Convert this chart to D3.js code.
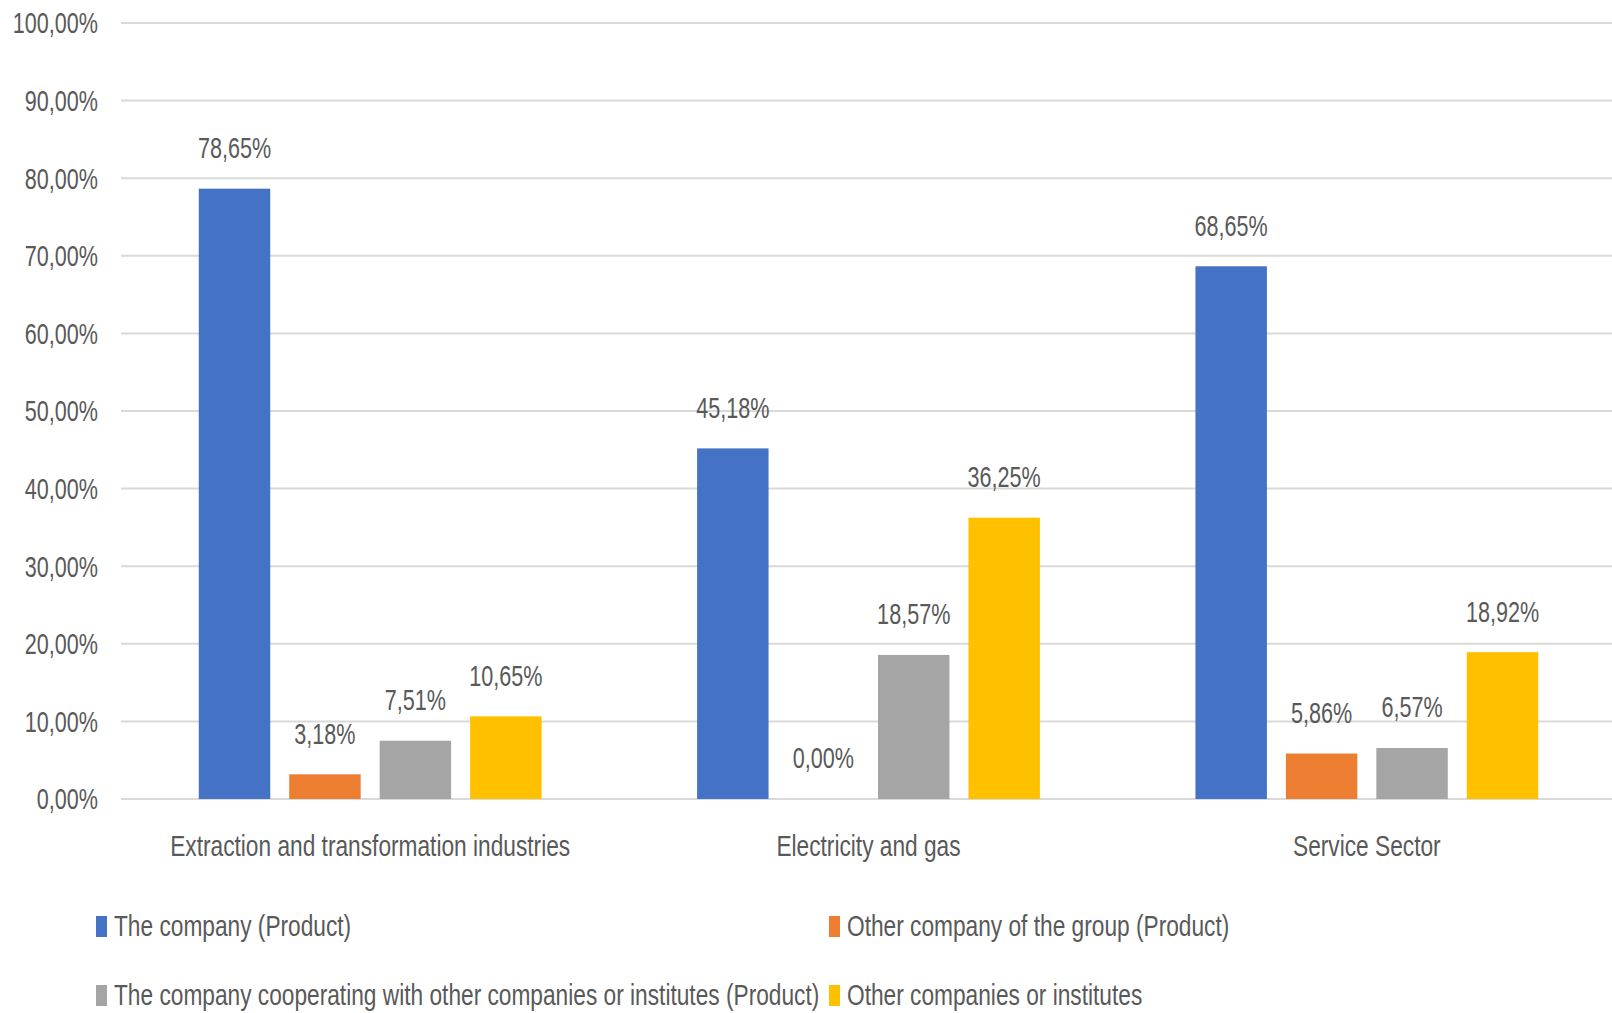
<!DOCTYPE html>
<html>
<head>
<meta charset="utf-8">
<script src="https://cdn.jsdelivr.net/npm/d3@7"></script>
<style>
  html, body { margin: 0; padding: 0; background: #ffffff; }
  svg { display: block; }
  text { font-family: "Liberation Sans", Arial, sans-serif; fill: #595959; }
</style>
</head>
<body>
<svg id="chart" width="1612" height="1013"></svg>
<script>
const categories = ["Extraction and transformation industries", "Electricity and gas", "Service Sector"];
const seriesNames = [
  "The company (Product)",
  "Other company of the group (Product)",
  "The company cooperating with other companies or institutes (Product)",
  "Other companies or institutes"
];
const seriesColors = ["#4472C4", "#ED7D31", "#A5A5A5", "#FFC000"];
const valuesCompany     = [78.65, 45.18, 68.65];
const valuesGroup       = [3.18, 0.00, 5.86];
const valuesCooperating = [7.51, 18.57, 6.57];
const valuesOthers      = [10.65, 36.25, 18.92];
const seriesValues = [valuesCompany, valuesGroup, valuesCooperating, valuesOthers];
const yTicks = [0, 10, 20, 30, 40, 50, 60, 70, 80, 90, 100];

const SXN = 0.72;      // horizontal compression for numbers
const SXW = 0.757;     // horizontal compression for words
const FS = 30;         // font size

const svg = d3.select("#chart");
const fmt = v => v.toFixed(2).replace(".", ",") + "%";

const x0 = d3.scaleBand().domain(categories).range([121, 1616]).paddingInner(0.274).paddingOuter(0.137);
const x1 = d3.scaleBand().domain(d3.range(seriesNames.length)).range([0, x0.bandwidth()]).paddingInner(0.21).paddingOuter(0.105);
const y = d3.scaleLinear().domain([0, 100]).range([799, 23]);

function squeezed(sel, x, yy, sx) {
  sel.attr("x", 0).attr("y", 0).attr("transform", `translate(${x},${yy}) scale(${sx},1)`);
}

// gridlines
svg.append("g").selectAll("line").data(yTicks).join("line")
  .attr("x1", 121).attr("x2", 1612)
  .attr("y1", d => y(d)).attr("y2", d => y(d))
  .attr("stroke", "#D9D9D9").attr("stroke-width", 2);

// y tick labels
svg.append("g").selectAll("text").data(yTicks).join("text")
  .attr("text-anchor", "end").attr("font-size", FS).attr("dominant-baseline", "central")
  .each(function(d) { squeezed(d3.select(this), 98, y(d), SXN); })
  .text(d => fmt(d));

// bars
const groups = svg.append("g").selectAll("g").data(categories).join("g")
  .attr("transform", c => `translate(${x0(c)},0)`);

groups.each(function(c, ci) {
  const g = d3.select(this);
  const data = seriesValues.map((vals, si) => ({ si, v: vals[ci] }));
  g.selectAll("rect").data(data).join("rect")
    .attr("x", d => x1(d.si)).attr("width", x1.bandwidth())
    .attr("y", d => y(d.v)).attr("height", d => y(0) - y(d.v))
    .attr("fill", d => seriesColors[d.si]);
  g.selectAll("text").data(data).join("text")
    .attr("text-anchor", "middle").attr("font-size", FS).attr("dominant-baseline", "central")
    .each(function(d) { squeezed(d3.select(this), x1(d.si) + x1.bandwidth() / 2, y(d.v) - 41, SXN); })
    .text(d => fmt(d.v));
});

// category labels
svg.append("g").selectAll("text").data(categories).join("text")
  .attr("text-anchor", "middle").attr("font-size", FS).attr("dominant-baseline", "central")
  .each(function(c) { squeezed(d3.select(this), x0(c) + x0.bandwidth() / 2, 846, SXW); })
  .text(c => c);

// legend
const legendPos = [[96, 926], [829, 926], [96, 995], [829, 995]];
const leg = svg.append("g").selectAll("g").data(seriesNames).join("g")
  .attr("transform", (d, i) => `translate(${legendPos[i][0]},${legendPos[i][1]})`);
leg.append("rect").attr("x", 0).attr("y", -10).attr("width", 11).attr("height", 21)
  .attr("fill", (d, i) => seriesColors[i]);
leg.append("text").attr("font-size", FS).attr("dominant-baseline", "central")
  .each(function() { squeezed(d3.select(this), 18, 0, SXW); })
  .text(d => d);
</script>
</body>
</html>
